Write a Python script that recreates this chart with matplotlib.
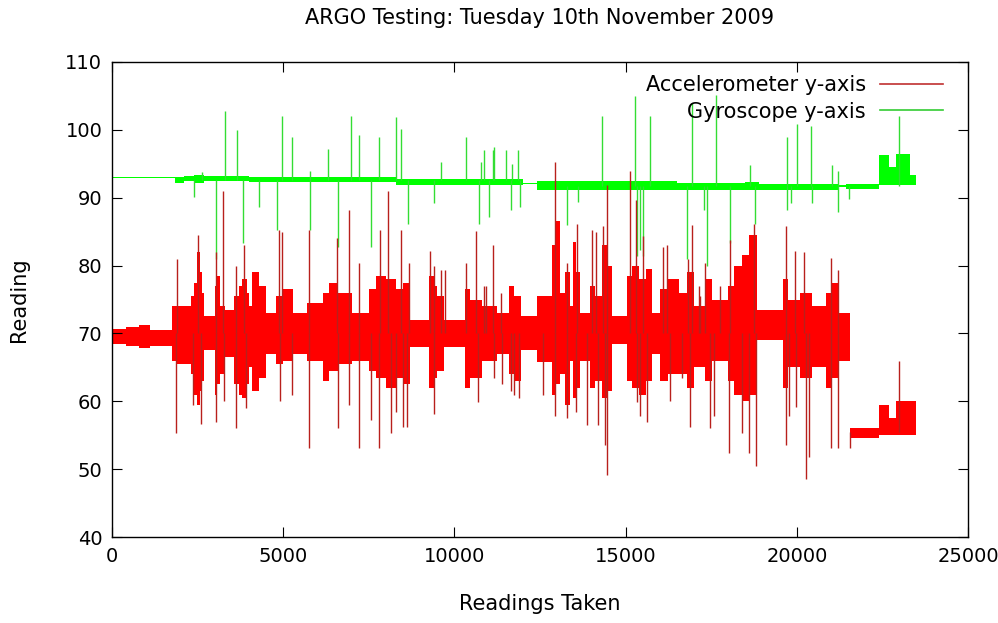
import matplotlib
matplotlib.use("Agg")
import matplotlib.pyplot as plt
from matplotlib.lines import Line2D

# accelerometer: dense core band (segment start, low, high)
acc_band_x = [0, 400, 800, 1100, 1750, 1900, 2300, 2400, 2480, 2560, 2640, 2700, 3000, 3080, 3150,
              3300, 3550, 3700, 3800, 3950, 4000, 4100, 4300, 4500, 4800, 5000, 5300, 5700, 6150, 6350,
              6600, 7000, 7500, 7700, 8000, 8300, 8500, 8700, 9250, 9400, 9500, 9700, 10300, 10450,
              10800, 11250, 11600, 11750, 11950, 12400, 12850, 12950, 13080, 13230, 13380, 13470, 13560,
              13670, 13950, 14100, 14300, 14450, 14600, 15030, 15200, 15400, 15600, 15760, 16000, 16250,
              16550, 16800, 17000, 17330, 17530, 18000, 18160, 18400, 18600, 18850, 19600, 19750, 20100,
              20450, 20850, 21000, 21200, 21560, 22400, 22700, 22900, 23480]
acc_band_lo = [68.4, 68.2, 67.8, 68.2, 66.0, 65.5, 64.0, 61.0, 59.5, 61.5, 63.0, 67.5, 61.0, 62.5, 64.0,
               66.5, 62.5, 61.0, 60.5, 62.5, 65.0, 61.5, 63.5, 67.0, 65.5, 66.0, 67.0, 66.0, 63.0, 64.5,
               65.5, 66.0, 64.5, 63.5, 62.0, 63.5, 62.5, 68.0, 62.0, 63.5, 64.5, 68.0, 62.0, 63.5,
               66.0, 67.0, 64.0, 63.0, 67.5, 65.8, 61.0, 62.5, 64.0, 59.5, 66.0, 60.5, 62.0,
               66.0, 62.0, 63.0, 60.5, 61.5, 68.5, 63.0, 62.0, 61.0, 63.0, 67.0, 63.0, 64.0,
               64.0, 62.0, 65.0, 63.0, 66.0, 63.0, 61.0, 60.0, 61.0, 69.0, 62.0, 65.0, 63.5,
               65.0, 62.0, 63.5, 66.0, 54.6, 55.0, 55.0, 55.0, 55.0]
acc_band_hi = [70.6, 70.9, 71.2, 70.5, 74.0, 74.0, 75.5, 77.5, 82.0, 79.0, 76.0, 72.5, 77.0, 78.5, 74.0,
               73.5, 75.5, 77.0, 78.0, 76.0, 74.0, 79.0, 77.0, 73.0, 75.5, 76.5, 73.0, 74.5, 76.0, 77.5,
               76.0, 73.0, 76.5, 78.5, 78.0, 76.5, 77.5, 72.0, 78.5, 77.0, 75.5, 72.0, 76.5, 75.0,
               74.0, 73.0, 77.0, 75.5, 72.5, 75.5, 83.0, 86.5, 76.0, 79.0, 74.0, 83.5, 79.0,
               73.0, 77.0, 75.5, 83.0, 80.0, 72.5, 78.5, 80.0, 78.0, 79.5, 73.0, 76.5, 78.0,
               76.0, 79.0, 74.0, 78.0, 75.0, 77.0, 80.0, 81.5, 84.5, 73.5, 78.0, 75.0, 76.0,
               74.0, 76.0, 77.5, 73.0, 56.0, 59.5, 57.5, 60.0, 60.0]

# accelerometer: isolated spikes (reading, value)
acc_spike_x = [1880, 1890, 2380, 2525, 2600, 3030, 3050, 3250, 3280, 3620, 3630, 3850, 3900,
               4874, 4960, 4920, 5264, 5750, 5760, 6580, 6590, 6920, 6930, 7214, 7220, 7555, 7800, 7830,
               8070, 8150, 8295, 8441, 8490, 8620, 8660, 9300, 9416, 9400, 9610, 9730, 10343, 10635,
               10680, 10860, 10930, 11122, 11170, 11350, 11400, 11660, 11750, 11900, 12600, 12934, 12950,
               13300, 13280, 13570, 13560, 13860, 14008, 14130, 14200, 14350, 14400, 14445, 14450, 15128,
               15290, 15320, 15420, 15520, 15620, 16100, 16200, 16300, 16650, 16820, 16890, 16940, 17130,
               17180, 17330, 17475, 17570, 17770, 18013, 18060, 18400, 18600, 18793, 18760, 19670, 19680,
               19770, 19960, 19970, 20255, 20200, 20350, 20995, 21000, 21190, 21195, 21560, 22974]
acc_spike_y = [55.3, 81.0, 59.5, 84.5, 56.7, 57.0, 82.0, 91.0, 60.0, 80.0, 56.0, 83.0, 59.0,
               85.3, 85.0, 60.1, 61.0, 85.3, 53.1, 84.0, 56.0, 88.2, 59.4, 80.4, 53.1, 57.2, 53.1, 85.3,
               91.0, 55.3, 58.4, 85.3, 56.2, 56.2, 80.4, 82.1, 58.2, 80.0, 79.4, 79.4, 80.4, 85.1,
               59.9, 77.0, 77.0, 83.1, 63.5, 76.0, 62.5, 61.5, 61.0, 60.5, 61.0, 95.3, 57.9,
               57.5, 80.4, 86.1, 58.4, 56.5, 85.3, 85.0, 56.5, 85.8, 53.5, 49.2, 91.9, 94.0,
               89.7, 59.9, 57.9, 84.3, 57.0, 82.8, 83.0, 60.0, 63.5, 80.9, 56.2, 86.0, 77.0,
               75.5, 80.4, 56.0, 57.9, 77.0, 52.4, 83.8, 55.3, 52.4, 50.4, 86.1, 85.8, 53.6,
               57.9, 82.1, 59.1, 48.5, 82.0, 51.8, 81.1, 53.1, 79.4, 53.1, 53.1, 66.0]

# gyroscope: core band and spikes
gyr_band_x = [0, 1840, 2100, 2400, 2700, 4000, 8300, 12000, 12400, 16500, 18500, 18900, 21200,
              21450, 22400, 22700, 22900, 23300, 23480]
gyr_band_lo = [92.85, 92.1, 92.5, 92.2, 92.4, 92.3, 91.9, 91.95, 91.2, 91.1, 91.1, 91.2, 91.6,
               91.3, 91.9, 91.9, 91.9, 91.9, 91.9]
gyr_band_hi = [93.1, 93.1, 93.2, 93.3, 93.2, 93.1, 92.7, 92.2, 92.4, 92.1, 92.3, 92.0, 91.9,
               92.0, 96.3, 94.5, 96.5, 93.3, 93.3]

gyr_spike_x = [2400, 2620, 3040, 3305, 3645, 3840, 4290, 4830, 4970, 5264, 5770, 5780, 6317, 6610,
               6970, 7214, 7555, 7800, 8286, 8441, 8636, 9416, 9611, 10343, 10732, 10780, 10878, 11020,
               11122, 11170, 11512, 11660, 11680, 11854, 11930, 13275, 13617, 14299, 15274, 15320,
               15420, 15520, 15713, 16794, 16940, 17280, 17379, 17630, 18061, 18646, 18790, 19719,
               19725, 19815, 20011, 20401, 20450, 21040, 21190, 21195, 21530, 22993]
gyr_spike_y = [90.1, 93.8, 80.9, 102.8, 100.0, 83.3, 88.7, 85.3, 102.1, 98.9, 85.3, 94.0, 97.2, 82.8,
               102.1, 99.2, 82.8, 98.9, 101.9, 100.1, 86.1, 89.2, 95.3, 98.9, 86.1, 95.3, 97.0, 87.2,
               97.0, 97.5, 97.0, 88.2, 95.0, 97.0, 88.7, 86.0, 89.4, 102.1, 105.0, 81.4,
               82.3, 81.4, 102.1, 80.9, 104.0, 88.2, 80.0, 105.2, 83.3, 94.8, 86.2, 88.2,
               98.9, 89.2, 100.9, 100.6, 89.2, 94.8, 87.9, 94.0, 89.8, 102.1]

red = '#ff0000'
red_thin = '#b8201c'
green = '#00ff00'
green_thin = '#33dd33'

fig = plt.figure(figsize=(9.98, 6.23), dpi=100)
ax = fig.add_axes([0.1122, 0.138, 0.8578, 0.7625])

# gyroscope first so that accelerometer sits on top like gnuplot draws it
gyr_base = [92.6 if x < 12000 else 91.7 for x in gyr_spike_x]
ax.vlines(gyr_spike_x, gyr_base, gyr_spike_y, color=green_thin, lw=1.0)
ax.fill_between(gyr_band_x, gyr_band_lo, gyr_band_hi, step='post', color=green, lw=0)

acc_base = [70.0 if x < 21500 else 55.5 for x in acc_spike_x]
ax.vlines(acc_spike_x, acc_base, acc_spike_y, color=red_thin, lw=1.0)
ax.fill_between(acc_band_x, acc_band_lo, acc_band_hi, step='post', color=red, lw=0)

ax.set_xlim(0, 25000)
ax.set_ylim(40, 110)
ax.set_xticks([0, 5000, 10000, 15000, 20000, 25000])
ax.set_yticks(range(40, 111, 10))
ax.tick_params(direction='in', top=True, right=True, length=7, labelsize=14, pad=7)
for s in ax.spines.values():
    s.set_linewidth(1.0)

ax.set_title('ARGO Testing: Tuesday 10th November 2009', fontsize=15, pad=27)
ax.set_xlabel('Readings Taken', fontsize=15, labelpad=20)
ax.set_ylabel('Reading', fontsize=15, labelpad=26)

handles = [Line2D([], [], color='#c03030', lw=1.2), Line2D([], [], color='#33cc33', lw=1.2)]
ax.legend(handles, ['Accelerometer y-axis', 'Gyroscope y-axis'], loc='upper right',
          bbox_to_anchor=(0.9755, 0.9805), frameon=False, markerfirst=False, fontsize=15,
          handlelength=3.0, borderaxespad=0.0, borderpad=0.2, labelspacing=0.3, handletextpad=0.7)

fig.savefig('out.png', dpi=100)
